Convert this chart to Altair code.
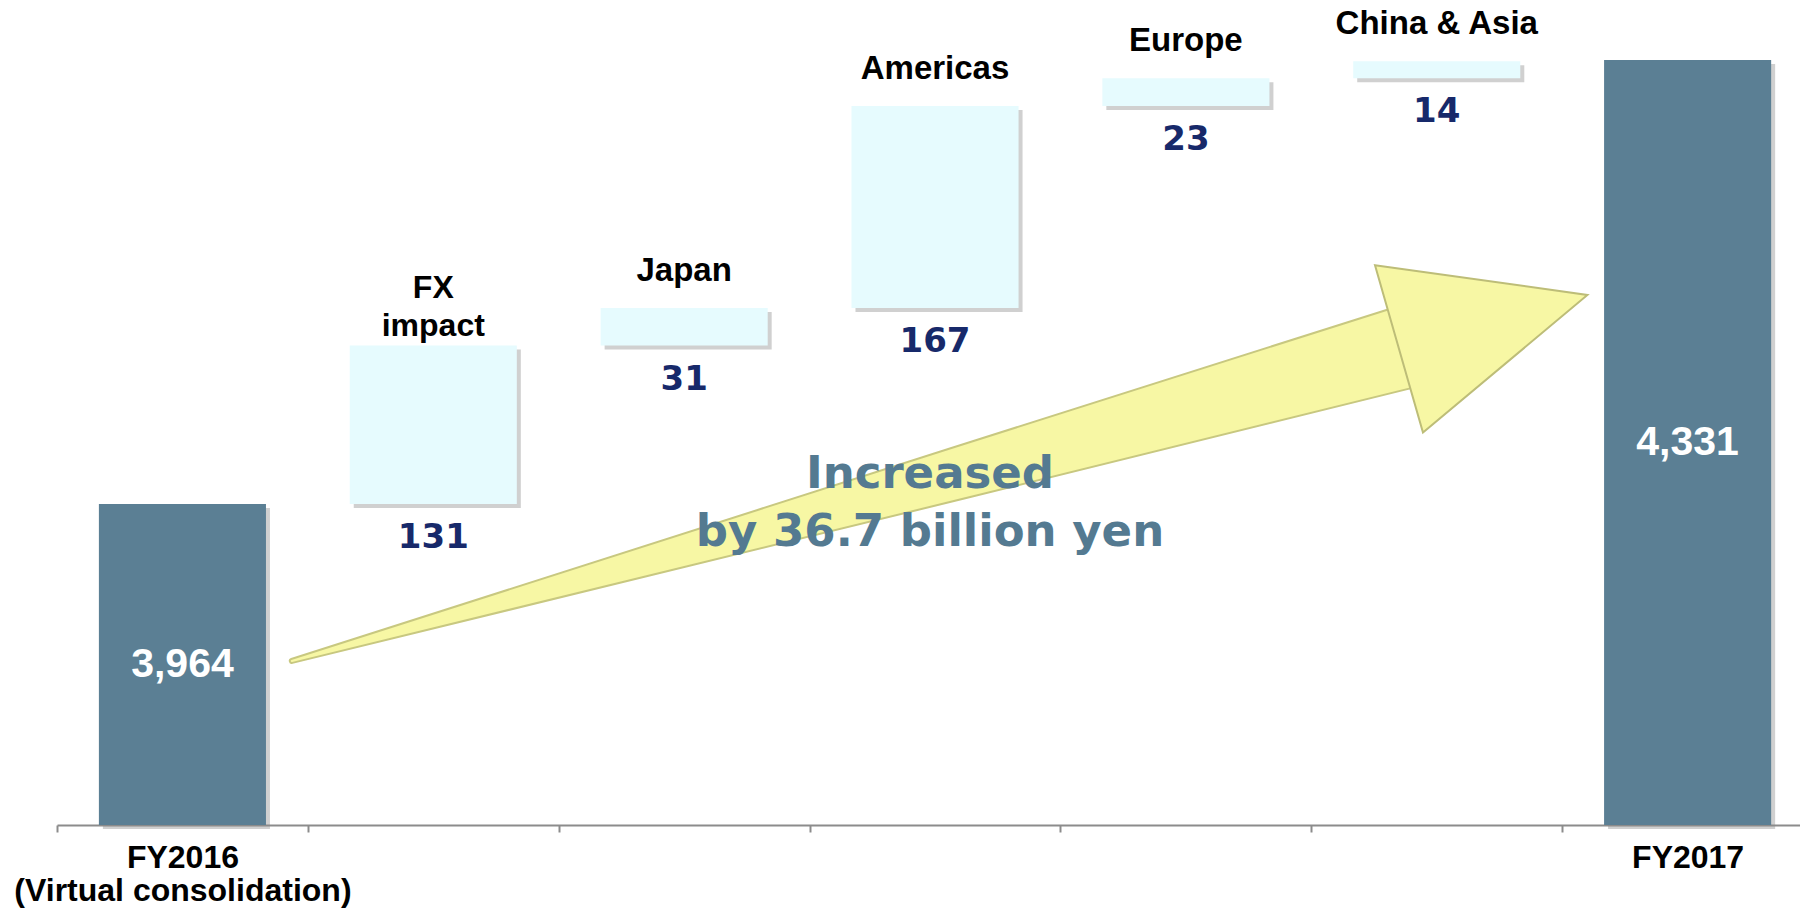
import json
import altair as alt
import pandas as pd

# ---- data (100 million yen) ----
categories = ["FY2016\n(Virtual consolidation)", "FX\nimpact", "Japan", "Americas",
              "Europe", "China & Asia", "FY2017"]
values = [3964, 131, 31, 167, 23, 14, 4331]
kinds = ["total", "delta", "delta", "delta", "delta", "delta", "total"]

# ---- annotation arrow (data units: x = category index, y = value) ----
arrow_x = [0.436, 3.084, 4.85]
arrow_y = [3834.3, 3989.0, 4092.2]
arrow_w = [2, 50, 80]
head_x = [5.225]
head_y = [4114.5]
note_x = [2.98]
note_y = [3988.8]

Y_MIN, Y_MAX = 3698.7, 4380.6
X_MIN, X_MAX = -0.5, 6.448
W, H = 1743, 825

rows = []
running = 0
for i, (c, v, k) in enumerate(zip(categories, values, kinds)):
    if k == "total":
        start, end = 0, v
        running = v
        txt = f"{v:,}"
    else:
        start, end = running, running + v
        running = end
        txt = f"{v}"
    rows.append({
        "pos": i, "x0": i - 0.333, "x1": i + 0.333,
        "label": c, "kind": k, "start": start, "end": end,
        "mid": (max(start, Y_MIN) + end) / 2, "txt": txt,
        "multi": "\n" in c,
    })
df = pd.DataFrame(rows)

arrow_df = pd.DataFrame({"x": arrow_x, "y": arrow_y, "w": arrow_w})
arrow_df["w2"] = arrow_df["w"] + 4
head_df = pd.DataFrame({"x": head_x, "y": head_y})
gain = (values[-1] - values[0]) / 10
note_df = pd.DataFrame({"x": note_x, "y": note_y,
                        "t": [f"Increased\nby {gain:.1f} billion yen"]})

xs = alt.Scale(domain=[X_MIN, X_MAX], nice=False, zero=False)
ys = alt.Scale(domain=[Y_MIN, Y_MAX], nice=False, zero=False, clamp=True)

# axis labels only for totals
parts = []
for _, r in df[df.kind == "total"].iterrows():
    parts.append(f"datum.value == {r.pos} ? {json.dumps(r.label.split(chr(10)))}")
label_expr = " : ".join(parts) + " : ''"

axis_x = alt.Axis(
    values=[-0.5, 0.5, 1.5, 2.5, 3.5, 4.5, 5.5, 0, 6],
    labelExpr=label_expr, title=None, grid=False,
    domainColor="#8c8c8c", domainWidth=2,
    tickColor="#8c8c8c", tickWidth=2, tickSize=7,
    tickOpacity={"condition": {"test": "datum.value % 1 != 0", "value": 1}, "value": 0},
    labelFont="Liberation Sans", labelFontSize=32, labelFontWeight="bold",
    labelColor="#000000", labelPadding=10, labelLineHeight=33,
    labelOverlap=False, labelFlush=False, labelBound=False, labelLimit=600,
)

base = alt.Chart(df)

shadow = base.mark_rect(xOffset=4, x2Offset=4, yOffset=4, y2Offset=4,
                        color="#8a8a8a", opacity=0.4).encode(
    x=alt.X("x0:Q", scale=xs, axis=axis_x),
    x2="x1:Q",
    y=alt.Y("start:Q", scale=ys, axis=None),
    y2="end:Q",
)

bars = base.mark_rect().encode(
    x=alt.X("x0:Q", scale=xs),
    x2="x1:Q",
    y=alt.Y("start:Q", scale=ys),
    y2="end:Q",
    color=alt.Color("kind:N", scale=alt.Scale(domain=["total", "delta"],
                                              range=["#5b7f94", "#e6fbfe"]), legend=None),
)

cat_single = base.transform_filter("datum.kind == 'delta' && !datum.multi").mark_text(
    font="Liberation Sans", fontSize=33, fontWeight="bold", color="#000000",
    baseline="bottom", dy=-20, lineBreak="\n").encode(
    x=alt.X("pos:Q", scale=xs), y=alt.Y("end:Q", scale=ys), text="label:N")

cat_multi = base.transform_filter("datum.kind == 'delta' && datum.multi").mark_text(
    font="Liberation Sans", fontSize=32, fontWeight="bold", color="#000000",
    baseline="bottom", dy=-41, lineBreak="\n", lineHeight=38).encode(
    x=alt.X("pos:Q", scale=xs), y=alt.Y("end:Q", scale=ys), text="label:N")

delta_txt = base.transform_filter("datum.kind == 'delta'").mark_text(
    font="DejaVu Sans", fontSize=34, fontWeight="bold", color="#17296a",
    baseline="middle", dy=34).encode(
    x=alt.X("pos:Q", scale=xs), y=alt.Y("start:Q", scale=ys), text="txt:N")

total_txt = base.transform_filter("datum.kind == 'total'").mark_text(
    font="Liberation Sans", fontSize=41, fontWeight="bold", color="#ffffff",
    baseline="middle").encode(
    x=alt.X("pos:Q", scale=xs), y=alt.Y("mid:Q", scale=ys), text="txt:N")

shaft_edge = alt.Chart(arrow_df).mark_trail(color="#c8c880").encode(
    x=alt.X("x:Q", scale=xs), y=alt.Y("y:Q", scale=ys),
    size=alt.Size("w2:Q", scale=None, legend=None))
shaft = alt.Chart(arrow_df).mark_trail(color="#f7f7a4").encode(
    x=alt.X("x:Q", scale=xs), y=alt.Y("y:Q", scale=ys),
    size=alt.Size("w:Q", scale=None, legend=None))
head = alt.Chart(head_df).mark_point(
    shape="M -1 -0.888 L 1 0 L -1 0.888 Z", size=38416, angle=344,
    filled=True, fill="#f7f7a4", stroke="#bdbd78", strokeWidth=2, opacity=1).encode(
    x=alt.X("x:Q", scale=xs), y=alt.Y("y:Q", scale=ys))

note = alt.Chart(note_df).mark_text(
    font="DejaVu Sans", fontSize=45, fontWeight="bold", color="#547a91",
    baseline="middle", align="center", lineBreak="\n", lineHeight=58).encode(
    x=alt.X("x:Q", scale=xs), y=alt.Y("y:Q", scale=ys), text="t:N")

chart = alt.layer(
    shadow, bars, shaft_edge, shaft, head,
    cat_single, cat_multi, delta_txt, total_txt, note,
).properties(
    width=W, height=H,
    autosize=alt.AutoSizeParams(type="none"),
    padding={"left": 57, "top": 0, "right": 0, "bottom": 912 - H},
    background="#ffffff",
).configure_view(stroke=None)

chart.save("out.html", embed_options={"renderer": "svg", "actions": False})
